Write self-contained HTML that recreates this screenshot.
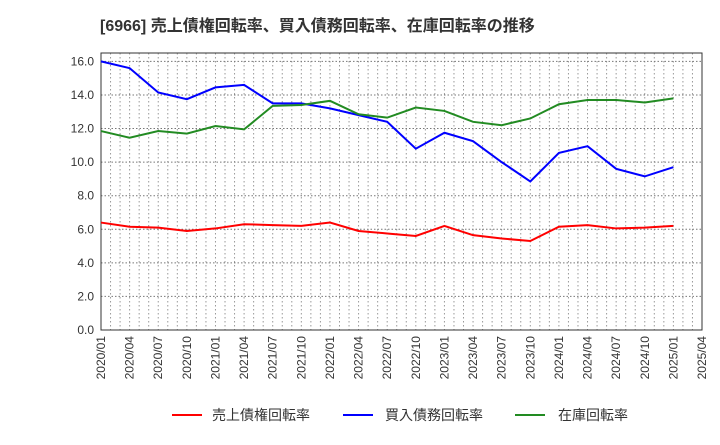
<!DOCTYPE html>
<html><head><meta charset="utf-8"><style>
body{margin:0;background:#fff;font-family:"Liberation Sans","Noto Sans CJK JP",sans-serif}
</style></head><body>
<svg id="c" width="720" height="440" xmlns="http://www.w3.org/2000/svg" font-family="Liberation Sans, Noto Sans CJK JP, sans-serif">
<text x="100" y="31" font-size="16" font-weight="bold" fill="#333">[6966]  売上債権回転率、買入債務回転率、在庫回転率の推移</text>
<g id="grid"></g><g id="axes"></g><g id="lines"></g>
<g>
<line x1="172" y1="415" x2="202" y2="415" stroke="#f00" stroke-width="2"/>
<text x="212" y="420" font-size="14" fill="#333">売上債権回転率</text>
<line x1="343" y1="415" x2="373" y2="415" stroke="#00f" stroke-width="2"/>
<text x="385" y="420" font-size="14" fill="#333">買入債務回転率</text>
<line x1="515" y1="415" x2="545" y2="415" stroke="#228b22" stroke-width="2"/>
<text x="558" y="420" font-size="14" fill="#333">在庫回転率</text>
</g>
</svg>
<script>
const xLabels=["2020/01","2020/04","2020/07","2020/10","2021/01","2021/04","2021/07","2021/10","2022/01","2022/04","2022/07","2022/10","2023/01","2023/04","2023/07","2023/10","2024/01","2024/04","2024/07","2024/10","2025/01","2025/04"];
const yTicks=[0,2,4,6,8,10,12,14,16];
const receivables=[6.4,6.15,6.1,5.9,6.05,6.3,6.25,6.2,6.4,5.9,5.75,5.6,6.2,5.65,5.45,5.3,6.15,6.25,6.05,6.1,6.2];
const payables=[16.0,15.6,14.15,13.75,14.45,14.6,13.5,13.5,13.2,12.8,12.4,10.8,11.75,11.25,10.0,8.85,10.55,10.95,9.6,9.15,9.7];
const inventory=[11.85,11.45,11.85,11.7,12.15,11.95,13.35,13.4,13.65,12.85,12.65,13.25,13.05,12.4,12.2,12.6,13.45,13.7,13.7,13.55,13.8];
const L=101,R=702,T=53,B=330,YMAX=16.5;
const NS="http://www.w3.org/2000/svg";
const step=(R-L)/(xLabels.length-1);
const X=i=>L+i*step, Y=v=>B-v/YMAX*(B-T);
function mk(t,a,p){const e=document.createElementNS(NS,t);for(const k in a)e.setAttribute(k,a[k]);p.appendChild(e);return e;}
const grid=document.getElementById('grid'),axes=document.getElementById('axes'),lines=document.getElementById('lines');
for(let m=1;m<(xLabels.length-1)*3;m++){const x=L+m*step/3;
const g=mk('line',{x1:x,x2:x,y1:T,y2:B,stroke:'#999','stroke-dasharray':'1.5,2.5','stroke-width':1},grid);

}
yTicks.forEach(v=>{const y=Y(v);
const g=mk('line',{x1:L,x2:R,y1:y,y2:y,stroke:'#777','stroke-dasharray':'1.5,2','stroke-width':1},grid);


const t=mk('text',{x:L-7,y:y+4,'text-anchor':'end','font-size':12,fill:'#333'},axes);t.textContent=v.toFixed(1);

});
xLabels.forEach((s,i)=>{const x=X(i);
const t=mk('text',{x:x+4,y:B+6,'text-anchor':'end','font-size':12,fill:'#333',transform:`rotate(-90 ${x+4} ${B+6})`},axes);t.textContent=s;

});
const frame=mk('rect',{x:L,y:T,width:R-L,height:B-T,fill:'none',stroke:'#333','stroke-width':1},axes);


[[receivables,'#f00','receivables-line'],[payables,'#00f','payables-line'],[inventory,'#228b22','inventory-line']].forEach(([d,c,n])=>{
const p=mk('polyline',{points:d.map((v,i)=>X(i)+','+Y(v)).join(' '),fill:'none',stroke:c,'stroke-width':2},lines);

});
</script>
</body></html>
